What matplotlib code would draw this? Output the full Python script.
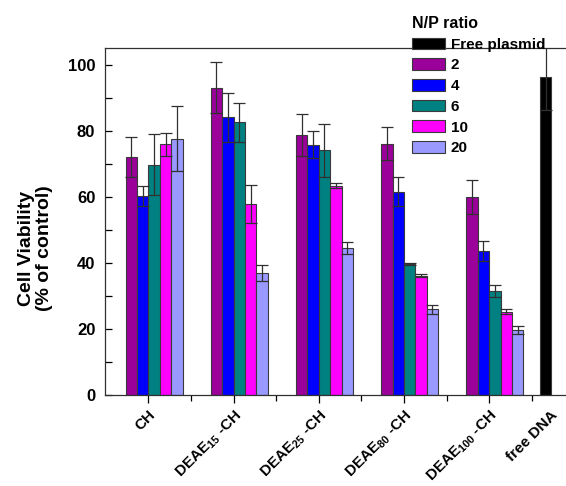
import matplotlib
matplotlib.use("Agg")
import matplotlib.pyplot as plt
import numpy as np

plt.rcParams['font.family'] = ['Liberation Sans', 'DejaVu Sans']
plt.rcParams['font.weight'] = 'bold'
plt.rcParams['mathtext.fontset'] = 'custom'
plt.rcParams['mathtext.rm'] = 'Liberation Sans:bold'
plt.rcParams['mathtext.it'] = 'Liberation Sans:bold'
plt.rcParams['mathtext.bf'] = 'Liberation Sans:bold'
plt.rcParams['mathtext.default'] = 'bf'

# Groups (x categories)
groups = ['CH', r'DEAE$_{15}$ -CH', r'DEAE$_{25}$ -CH', r'DEAE$_{80}$ -CH',
          r'DEAE$_{100}$ -CH', 'free DNA']

# Series: N/P ratios, plus the free plasmid control
series_names = ['Free plasmid', '2', '4', '6', '10', '20']
series_colors = ['#000000', '#9B009B', '#0000FF', '#008080', '#FF00FF', '#9999FF']

# Cell viability (% of control); None where a series has no bar in that group
free_plasmid = [None, None, None, None, None, 96.1]
np2 = [72.1, 93.0, 78.6, 76.1, 60.0, None]
np4 = [60.2, 84.0, 75.7, 61.5, 43.6, None]
np6 = [69.7, 82.5, 74.0, 39.6, 31.4, None]
np10 = [75.9, 57.8, 63.3, 36.1, 25.2, None]
np20 = [77.6, 37.0, 44.5, 25.9, 19.7, None]

# Standard deviations
free_plasmid_err = [None, None, None, None, None, 10.0]
np2_err = [6.0, 7.8, 6.4, 4.9, 5.2, None]
np4_err = [3.0, 7.3, 4.1, 4.4, 3.0, None]
np6_err = [9.3, 6.0, 8.0, 0.2, 1.8, None]
np10_err = [3.5, 5.8, 0.8, 0.5, 0.7, None]
np20_err = [9.7, 2.4, 1.8, 1.4, 1.2, None]

values = [free_plasmid, np2, np4, np6, np10, np20]
errors = [free_plasmid_err, np2_err, np4_err, np6_err, np10_err, np20_err]

fig = plt.figure(figsize=(5.66, 4.86), dpi=100)
ax = fig.add_axes([105 / 566, 91 / 486, 511 / 566, 347 / 486])

x = np.arange(1, len(groups) + 1)
width = 0.134
handles = []
for k, (vals, errs, col) in enumerate(zip(values, errors, series_colors)):
    xs = [xi + (k - 2.5) * width for xi, v in zip(x, vals) if v is not None]
    ys = [v for v in vals if v is not None]
    es = [e for e in errs if e is not None]
    bc = ax.bar(xs, ys, width=width, color=col, edgecolor='#3a3a3a',
                linewidth=0.8, zorder=2)
    ax.errorbar(xs, ys, yerr=es, fmt='none', ecolor='#303030',
                elinewidth=0.9, capsize=4.5, capthick=0.9, zorder=3)
    handles.append(bc)

ax.set_xlim(0.49, 6.49)
ax.set_ylim(0, 105)
ax.set_yticks([0, 20, 40, 60, 80, 100])
ax.set_yticks([10, 30, 50, 70, 90], minor=True)
ax.set_xticks(x)
ax.set_xticks(x[:-1] + 0.5, minor=True)

# Last category label is set beside the black bar instead of under its tick
ax.set_xticklabels(groups[:-1] + [''], rotation=45, ha='right', va='top',
                   rotation_mode='anchor', fontsize=11, fontweight='bold')
ax.annotate(groups[-1], xy=(6, 0), xycoords=('data', 'axes fraction'),
            xytext=(-24, -13), textcoords='offset pixels', rotation=45,
            ha='right', va='top', rotation_mode='anchor', fontsize=11,
            fontweight='bold', annotation_clip=False)

ax.tick_params(axis='y', which='both', direction='in', length=5, width=0.9,
               labelsize=12, pad=7)
ax.tick_params(axis='x', which='major', direction='out', length=6, width=0.9, pad=3)
ax.tick_params(axis='x', which='minor', direction='out', length=4, width=0.9)
for lab in ax.get_yticklabels():
    lab.set_fontweight('bold')

for side in ['left', 'bottom', 'top']:
    ax.spines[side].set_linewidth(0.9)
    ax.spines[side].set_color('#303030')
ax.spines['right'].set_visible(False)

fig.text(35.5 / 566, 1 - 248 / 486, 'Cell Viability\n(% of control)', rotation=90,
         ha='center', va='center', fontsize=14, fontweight='bold',
         multialignment='center', linespacing=1.15)

leg = fig.legend(handles, series_names, title='N/P ratio', loc='upper left',
                 bbox_to_anchor=(412 / 566, 1 - 16 / 486), frameon=False,
                 alignment='left', fontsize=11, borderpad=0, borderaxespad=0,
                 handlelength=2.15, handleheight=0.8, handletextpad=0.4,
                 labelspacing=0.43,
                 title_fontproperties={'weight': 'bold', 'size': 11.5})
for t in leg.get_texts():
    t.set_fontweight('bold')

fig.savefig('out.png', dpi=100)
